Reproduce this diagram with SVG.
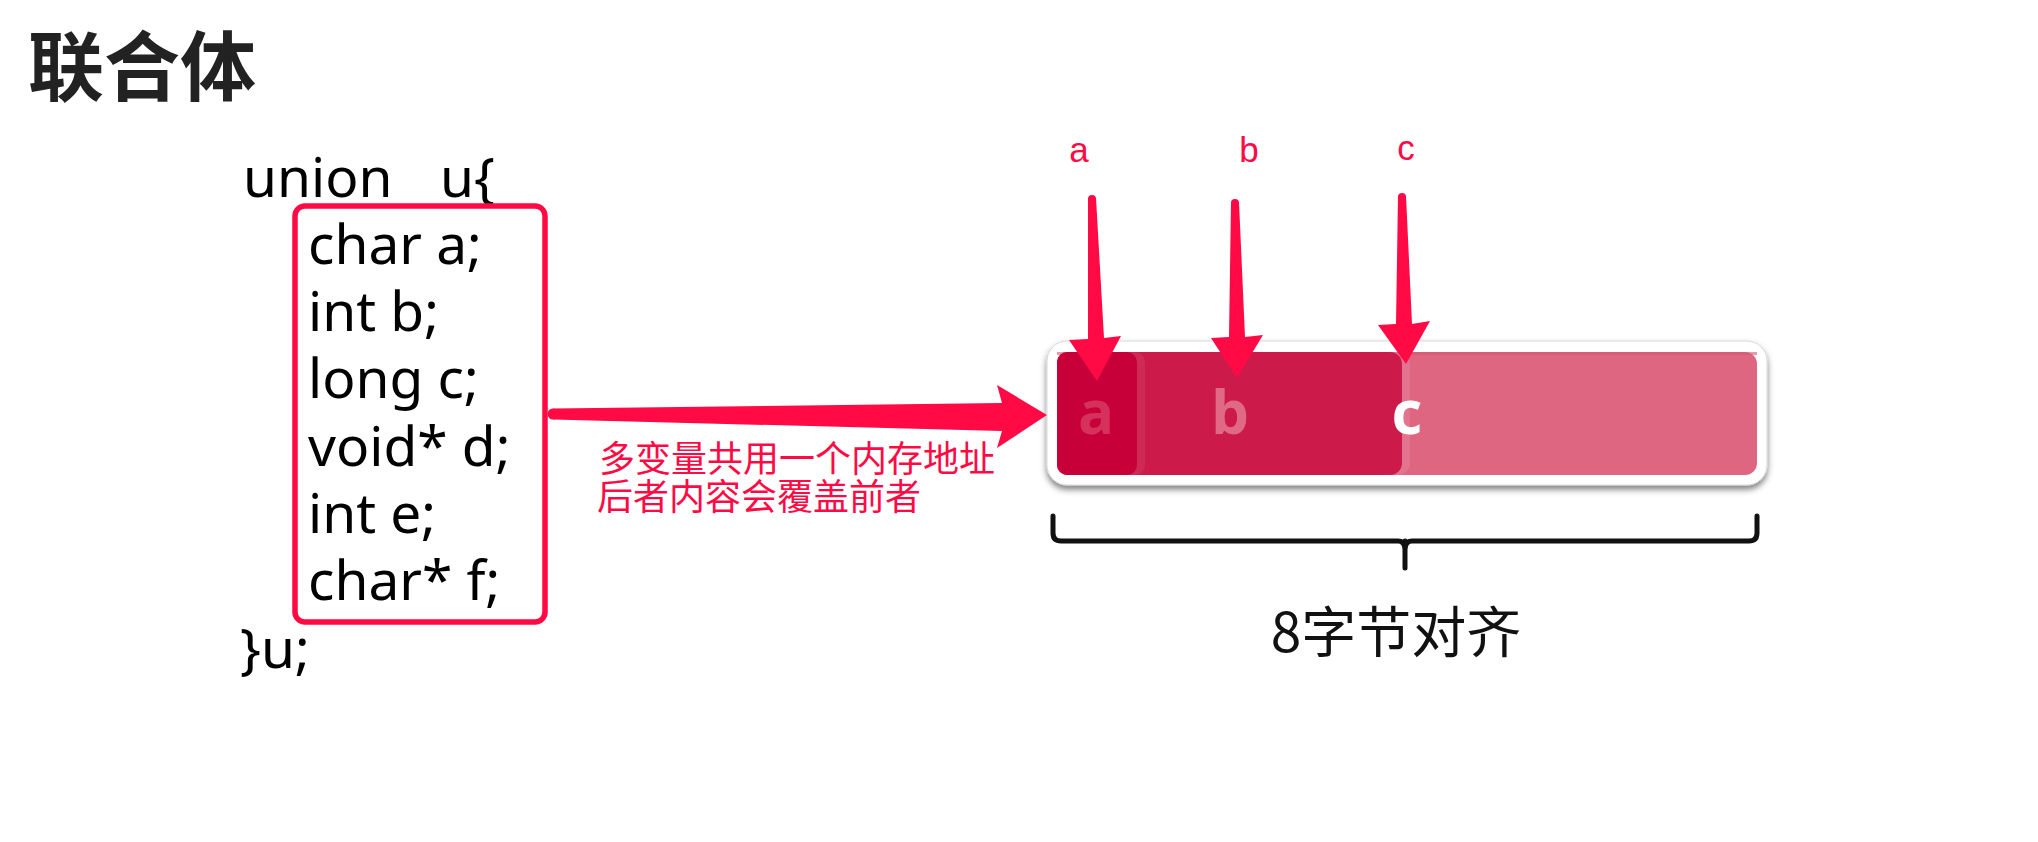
<svg xmlns="http://www.w3.org/2000/svg" width="2038" height="842" viewBox="0 0 2038 842">
  <style>
    .title { font-family: "Noto Sans CJK SC", "Noto Sans", sans-serif; font-weight: 700; font-size: 76px; fill: #222; }
    .code { font-family: "Noto Sans", "Open Sans", sans-serif; font-size: 55px; fill: #000; white-space: pre; }
    .note { font-family: "Noto Sans CJK SC", sans-serif; font-size: 36px; fill: #ff0a45; }
    .lbl { font-family: "Liberation Sans", Arial, sans-serif; font-size: 35px; fill: #ff0a45; text-anchor: middle; }
    .cell { font-family: "Open Sans", "DejaVu Sans", sans-serif; font-weight: 700; font-size: 60px; text-anchor: middle; }
    .cap { font-family: "Noto Sans CJK SC", sans-serif; font-size: 55px; fill: #111; text-anchor: middle; }
    .red { fill: #ff0a45; }
  </style>
  <defs>
    <filter id="shadow" x="-5%" y="-20%" width="110%" height="150%">
      <feDropShadow dx="0" dy="4" stdDeviation="3" flood-color="#000" flood-opacity="0.5"/>
    </filter>
  </defs>
  <rect width="2038" height="842" fill="#fff"/>

  <g id="title">
    <text class="title" x="28" y="95">联合体</text>
  </g>

  <g id="code">
    <text class="code" x="243" y="197" xml:space="preserve">union   <tspan x="440">u{</tspan></text>
    <text class="code" x="308" y="264">char a;</text>
    <text class="code" x="308" y="331">int b;</text>
    <text class="code" x="308" y="398">long c;</text>
    <text class="code" x="308" y="466">void* d;</text>
    <text class="code" x="308" y="533">int e;</text>
    <text class="code" x="308" y="600">char* f;</text>
    <text class="code" x="240" y="668">}u;</text>
  </g>

  <g id="code-box">
    <rect x="295" y="206" width="250" height="416" rx="10" fill="none" stroke="#ff0a45" stroke-width="5.5"/>
  </g>

  <g id="note">
    <text class="note" x="599" y="472">多变量共用一个内存地址</text>
    <text class="note" x="597" y="510">后者内容会覆盖前者</text>
  </g>

  <g id="memory-bar">
    <rect x="1047" y="341" width="720" height="144" rx="20" fill="#fff" stroke="#d8d8d8" stroke-width="1" filter="url(#shadow)"/>
    <rect x="1057" y="352" width="700" height="123" rx="12" fill="#df6680"/>
    <rect x="1057" y="352" width="700" height="3" fill="#cf5a74" opacity="0.6"/>
    <rect x="1057" y="352" width="353" height="123" rx="12" fill="#e3809a" opacity="0.55"/>
    <rect x="1057" y="352" width="345" height="123" rx="12" fill="#cc1a4b"/>
    <rect x="1057" y="352" width="88" height="123" rx="10" fill="#d23a62" opacity="0.5"/>
    <rect x="1057" y="352" width="80" height="123" rx="10" fill="#c8003a"/>
    <text class="cell" x="1096" y="434" fill="#d6305d">a</text>
    <text class="cell" x="1230" y="434" fill="#e06a86">b</text>
    <text class="cell" x="1407" y="434" fill="#ffffff">c</text>
  </g>

  <g id="pointer-labels">
    <text class="lbl" x="1079" y="162">a</text>
    <text class="lbl" x="1249" y="162">b</text>
    <text class="lbl" x="1406" y="160">c</text>
  </g>

  <g id="bracket">
    <path d="M1053,516 V533 Q1053,541 1061,541 H1398 Q1404,541 1405,548 Q1406,541 1412,541 H1749 Q1757,541 1757,533 V516" fill="none" stroke="#111" stroke-width="5" stroke-linecap="round" stroke-linejoin="round"/>
    <path d="M1405,541 V568" fill="none" stroke="#111" stroke-width="5" stroke-linecap="round"/>
    <text class="cap" x="1396" y="652">8字节对齐</text>
  </g>

  <g id="connectors">
    <g id="arrow-main">
      <circle class="red" cx="553" cy="414" r="5.5"/>
      <polygon class="red" points="553,408.5 1002,403 997,385 1047,415 997,448 1002,431 553,419.5"/>
    </g>
    <g id="arrow-a">
      <circle class="red" cx="1092" cy="199" r="4"/>
      <polygon class="red" points="1088,198 1096,198 1104,338 1121,336 1097,381 1069,340 1088,339"/>
    </g>
    <g id="arrow-b">
      <circle class="red" cx="1235" cy="203" r="4"/>
      <polygon class="red" points="1231,202 1239,202 1245,337 1263,335 1237,378 1211,338 1229,337"/>
    </g>
    <g id="arrow-c">
      <circle class="red" cx="1402" cy="197" r="4"/>
      <polygon class="red" points="1398,196 1406,196 1412,324 1430,321 1406,364 1378,325 1396,324"/>
    </g>
  </g>
</svg>
